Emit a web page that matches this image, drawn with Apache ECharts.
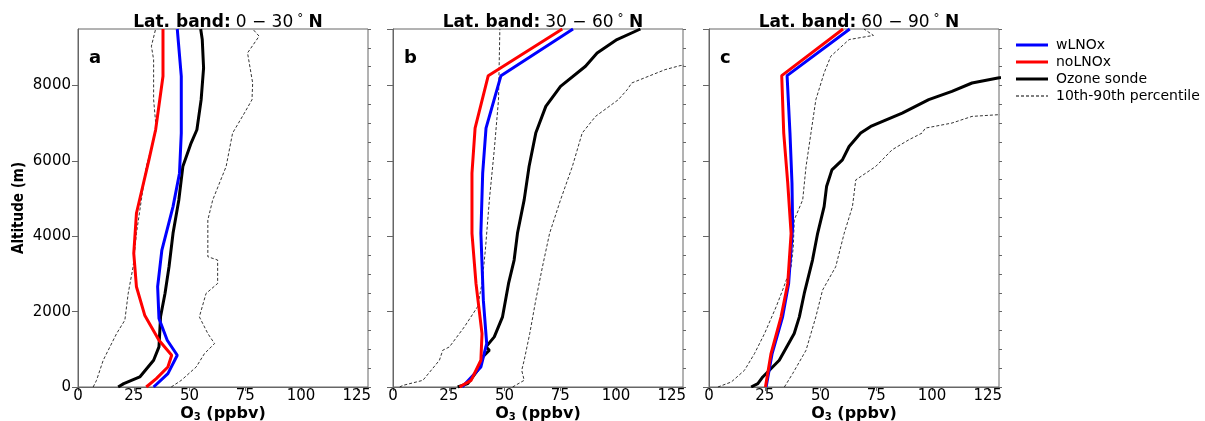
<!DOCTYPE html>
<html>
<head>
<meta charset="utf-8">
<script src="https://cdn.jsdelivr.net/npm/echarts@6/dist/echarts.min.js"></script>
<style>html,body{margin:0;padding:0;background:#fff;}#c{width:1205px;height:421px;}</style>
</head>
<body>
<div id="c"></div>
<script>
// ---- Data: [O3 (ppbv), altitude (m)] ----
const panelTitles = ['0 − 30', '30 − 60', '60 − 90'];
const panelLetters = ['a', 'b', 'c'];
const xTicks = [0, 25, 50, 75, 100, 125];
const yTicks = [0, 2000, 4000, 6000, 8000];

// Panel a: 0-30N
const aWLNOx = [[33.9,0],[40.3,355],[44.5,842],[40,1241],[36.3,1817],[35.7,2660],[37.6,3635],[42.6,4787],[45.5,5674],[46.3,6738],[46.3,8245],[44.5,9500]];
const aNoLNOx = [[30.6,0],[35.1,222],[40.3,532],[42,842],[36.3,1241],[29.9,1906],[26.2,2660],[25,3546],[26.2,4610],[31.8,6028],[34.8,6826],[38.1,8245],[38.1,9500]];
const aSonde = [[18,0],[20.5,89],[27.7,266],[33.9,709],[36.3,1064],[37,1862],[39,2482],[40.8,3191],[42.6,4078],[45.2,4965],[47,5851],[50.7,6472],[53.3,6826],[55.2,7624],[56.3,8466],[55.7,9220],[55,9500]];
const aP10 = [[6.8,0],[8.3,177],[11.3,709],[17.3,1418],[21,1773],[22.5,2482],[24.7,3191],[26.2,4078],[28.4,4965],[30.6,5851],[35.1,6826],[33.9,7624],[33.9,8688],[32.9,9043],[34.8,9500]];
const aP90 = [[41.8,0],[46.3,177],[53,532],[56.7,887],[61.2,1152],[58.2,1418],[54.4,1862],[57.4,2482],[62.6,2748],[62.6,3369],[58.2,3457],[58.2,4433],[60.4,4965],[66.4,5851],[69.3,6738],[74.6,7270],[78,7624],[78.3,8067],[76,8865],[81.2,9309],[78.3,9500]];

// Panel b: 30-60N
const bWLNOx = [[31,0],[39.4,532],[42,1152],[40.5,2305],[39.4,4078],[40.2,5674],[41.7,6870],[48.4,8262],[80.7,9500]];
const bNoLNOx = [[29.8,0],[35,177],[39.4,709],[39.9,1418],[37.2,2748],[35.4,4078],[35.4,5674],[36.8,6870],[42.7,8262],[75.9,9500]];
const bSonde = [[29,0],[33.5,89],[37.9,443],[40.2,798],[43.2,975],[41.7,1064],[45.4,1330],[49.1,1862],[51.8,2748],[54.3,3369],[55.8,4078],[58.8,4965],[61,5851],[64,6738],[68.5,7447],[75.1,7979],[86.3,8511],[91.5,8865],[100.4,9220],[110.9,9500]];
const bP10 = [[3,0],[4.5,44],[13.4,177],[20.8,709],[22.3,975],[25.3,1064],[32,1596],[37.9,2128],[39.9,2748],[41.4,3635],[43.2,4965],[45.4,6295],[47.3,7624],[47.9,9500]];
const bP90 = [[53.6,0],[58.8,177],[57.7,443],[58.8,709],[61.3,1418],[64,2305],[67,3191],[70.2,4078],[75.1,4965],[80.4,5851],[84.8,6738],[90.8,7181],[101,7624],[105,7890],[107,8067],[122,8422],[128.7,8528],[150,8700]];

// Panel c: 60-90N
const cWLNOx = [[25.6,0],[28.3,887],[33,1862],[35.7,2748],[37.5,4255],[37.2,5408],[36.3,6738],[35,8262],[63.1,9500]];
const cNoLNOx = [[25.3,0],[27.8,887],[32.3,1862],[35.3,2748],[36.8,4078],[35.3,5408],[33.5,6738],[32.6,8262],[60.1,9500]];
const cSonde = [[18.9,0],[21.9,89],[24.1,266],[31.5,709],[38.2,1418],[40.5,1862],[42.7,2482],[46.4,3369],[48.7,4078],[51.6,4787],[52.7,5319],[55.1,5762],[59.8,6028],[62.8,6383],[68,6738],[72.5,6915],[86.6,7270],[98.5,7624],[108.9,7845],[117.9,8067],[129.5,8200],[140,8300]];
const cP10 = [[4,0],[10,133],[15.9,443],[20.4,887],[24.9,1418],[30.1,2128],[33,2571],[36.8,3191],[37.8,3723],[38.2,4433],[42,4965],[43.5,5851],[45.7,6738],[47.9,7624],[51.6,8333],[54.6,8777],[62.8,9220],[73.7,9330],[69.5,9500]];
const cP90 = [[33.8,0],[37.5,355],[43.5,975],[47.9,1862],[50.9,2571],[56.8,3191],[60.6,4078],[64.3,4787],[65.8,5496],[74.7,5851],[82.1,6295],[89.6,6561],[95.5,6738],[97,6870],[108.9,7004],[117.9,7181],[129.5,7225],[150,7260]];

const panels = [
  {w: aWLNOx, n: aNoLNOx, s: aSonde, p10: aP10, p90: aP90},
  {w: bWLNOx, n: bNoLNOx, s: bSonde, p10: bP10, p90: bP90},
  {w: cWLNOx, n: cNoLNOx, s: cSonde, p10: cP10, p90: cP90}
];

// ---- Layout ----
const FONT = 'DejaVu Sans';
const lefts = [78, 393, 709];
const W = 290, TOP = 29, H = 358;
const axisGray = '#666';

const grids = [], xAxes = [], yAxes = [], series = [], titles = [];
lefts.forEach((l, i) => {
  grids.push({left: l, top: TOP, width: W, height: H, show: true, borderColor: axisGray, borderWidth: 1,
    backgroundColor: 'transparent', outerBoundsMode: 'none', containLabel: false});
  xAxes.push({
    gridIndex: i, type: 'value', min: 0, max: 130, interval: 25,
    name: 'O{s|3} (ppbv)', nameLocation: 'middle', nameGap: 19, nameMoveOverlap: false,
    nameTextStyle: {fontFamily: FONT, fontWeight: 'bold', fontSize: 16, color: '#000', lineHeight: 16,
      rich: {s: {fontSize: 10, fontFamily: FONT, fontWeight: 'bold', color: '#000', verticalAlign: 'bottom', lineHeight: 16, padding: [4, 0, 0, 0]}}},
    axisLine: {show: true, lineStyle: {color: axisGray, width: 1}},
    axisTick: {show: true, length: 4, lineStyle: {color: axisGray}},
    axisLabel: {showMaxLabel: false, fontFamily: FONT, fontSize: 15, color: '#000', margin: 2,
      formatter: v => xTicks.includes(v) ? String(v) : ''},
    splitLine: {show: false}
  });
  yAxes.push({
    gridIndex: i, type: 'value', min: 0, max: 9500, interval: 2000,
    name: i === 0 ? 'Altitude (m)' : '', nameLocation: 'middle', nameGap: 51, nameMoveOverlap: false,
    nameTextStyle: {fontFamily: 'DejaVu Sans Condensed, DejaVu Sans', fontWeight: 'bold', fontSize: 15, color: '#000'},
    axisLine: {show: true, lineStyle: {color: axisGray, width: 1}},
    axisTick: {show: true, length: 6, lineStyle: {color: axisGray}},
    axisLabel: {show: i === 0, showMaxLabel: false, fontFamily: FONT, fontSize: 15, color: '#000', margin: 7,
      formatter: v => yTicks.includes(v) ? String(v) : ''},
    splitLine: {show: false}
  });
});
// minor y tick axes
lefts.forEach((l, i) => {
  yAxes.push({
    gridIndex: i, type: 'value', min: 0, max: 9500, interval: 500,
    axisLine: {show: false}, axisLabel: {show: false}, splitLine: {show: false},
    axisTick: {show: true, length: 3, lineStyle: {color: axisGray}}
  });
});

panels.forEach((p, i) => {
  const base = {type: 'line', xAxisIndex: i, yAxisIndex: i, symbol: 'none', showSymbol: false, smooth: false, clip: true, animation: false, z: 3};
  series.push(Object.assign({}, base, {name: '10th-90th percentile', data: p.p10, lineStyle: {color: '#000', width: 0.8, type: [3, 2]}, itemStyle: {color: '#000'}, z: 2}));
  series.push(Object.assign({}, base, {name: '10th-90th percentile', data: p.p90, lineStyle: {color: '#000', width: 0.8, type: [3, 2]}, itemStyle: {color: '#000'}, z: 2}));
  series.push(Object.assign({}, base, {name: 'Ozone sonde', data: p.s, lineStyle: {color: '#000', width: 3}, itemStyle: {color: '#000'}}));
  series.push(Object.assign({}, base, {name: 'wLNOx', data: p.w, lineStyle: {color: '#0000ff', width: 3}, itemStyle: {color: '#0000ff'}}));
  series.push(Object.assign({}, base, {name: 'noLNOx', data: p.n, lineStyle: {color: '#ff0000', width: 3}, itemStyle: {color: '#ff0000'}}));

  titles.push({
    text: '{b|Lat. band:} {n|' + panelTitles[i] + '}{d|°}{n| }{b|N}',
    left: lefts[i] + W / 2, top: 8, textAlign: 'center',
    textStyle: {rich: {
      b: {fontFamily: FONT, fontWeight: 'bold', fontSize: 17, color: '#000'},
      n: {fontFamily: FONT, fontWeight: 'normal', fontSize: 17, color: '#000'},
      d: {fontFamily: FONT, fontWeight: 'normal', fontSize: 12, color: '#000', padding: [0, 0, 7, 4]}
    }}
  });
  titles.push({
    text: panelLetters[i], left: lefts[i] + 6, top: 44,
    textStyle: {fontFamily: FONT, fontWeight: 'bold', fontSize: 18, color: '#000'}
  });
});

const solidIcon = 'path://M0,0h32v3h-32z';
const dashIcon = 'path://M0,1h3v1h-3z M5,1h3v1h-3z M10,1h3v1h-3z M15,1h3v1h-3z M20,1h3v1h-3z M25,1h3v1h-3z M30,1h2v1h-2z M0,0h0.01v3h-0.01z';

const chart = echarts.init(document.getElementById('c'), null, {renderer: 'canvas'});
chart.setOption({
  animation: false,
  backgroundColor: '#fff',
  title: titles,
  grid: grids,
  xAxis: xAxes,
  yAxis: yAxes,
  legend: {
    data: [
      {name: 'wLNOx', icon: solidIcon, itemStyle: {color: '#0000ff'}},
      {name: 'noLNOx', icon: solidIcon, itemStyle: {color: '#ff0000'}},
      {name: 'Ozone sonde', icon: solidIcon, itemStyle: {color: '#000'}},
      {name: '10th-90th percentile', icon: dashIcon, itemStyle: {color: '#000'}}
    ],
    orient: 'vertical', left: 1011, top: 33,
    itemWidth: 32, itemHeight: 3, itemGap: 3,
    textStyle: {fontFamily: FONT, fontSize: 14, color: '#000', padding: [0, 0, 0, 3]}
  },
  series: series
});
</script>
</body>
</html>
